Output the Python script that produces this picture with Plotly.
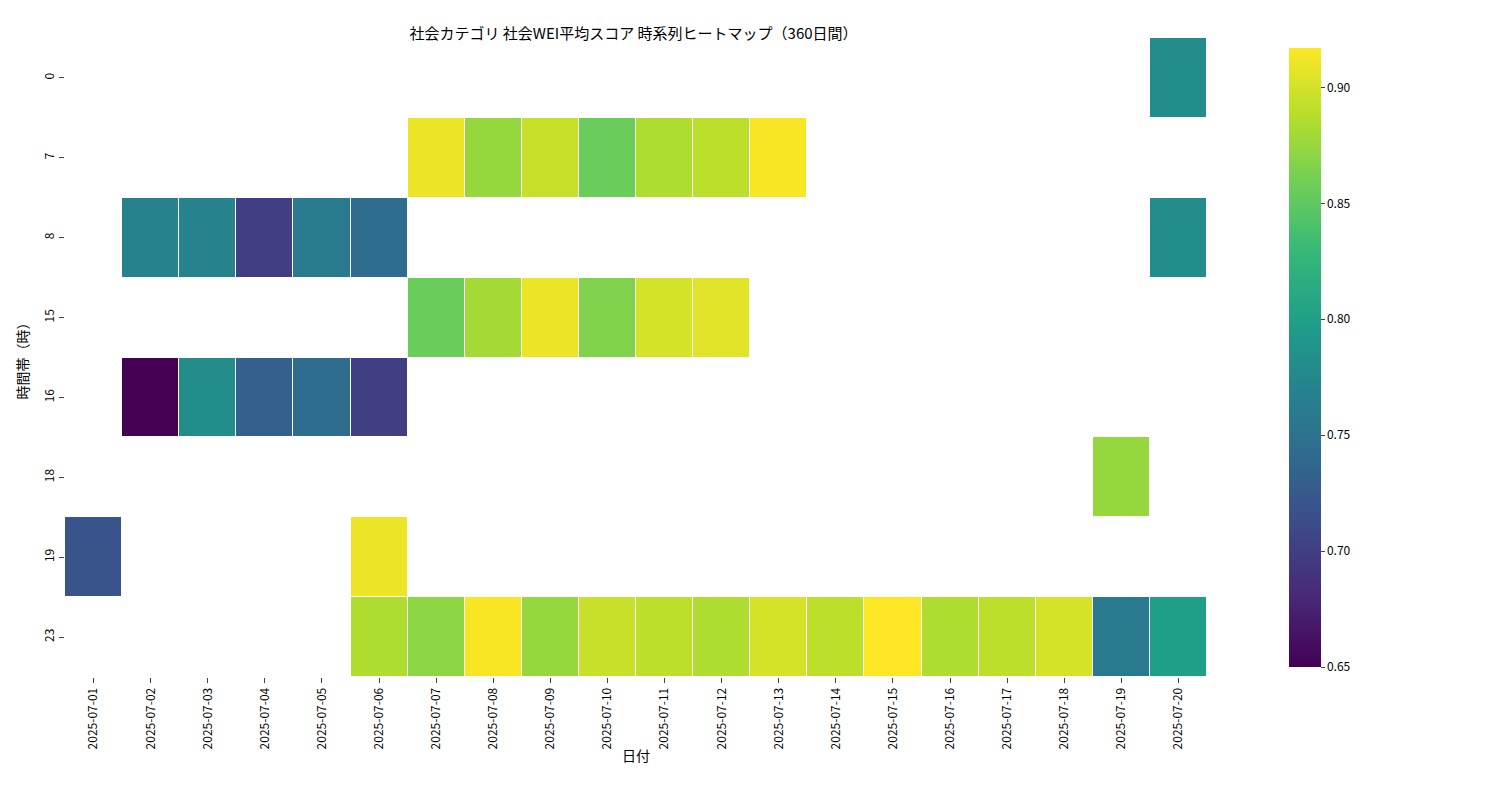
import plotly.graph_objects as go

dates = ["2025-07-%02d" % d for d in range(1, 21)]
hours = ["0", "7", "8", "15", "16", "18", "19", "23"]

N = None
row_0 = [N]*19 + [0.78]
row_7 = [N]*6 + [0.91, 0.875, 0.895, 0.855, 0.885, 0.89, 0.915] + [N]*7
row_8 = [N, 0.77, 0.77, 0.70, 0.76, 0.745] + [N]*13 + [0.78]
row_15 = [N]*6 + [0.855, 0.88, 0.91, 0.865, 0.90, 0.905] + [N]*8
row_16 = [N, 0.65, 0.78, 0.73, 0.745, 0.70] + [N]*14
row_18 = [N]*18 + [0.875, N]
row_19 = [0.72] + [N]*4 + [0.91] + [N]*14
row_23 = [N]*5 + [0.885, 0.87, 0.915, 0.875, 0.895, 0.89, 0.885, 0.90, 0.89,
                  0.917, 0.885, 0.89, 0.90, 0.76, 0.80]

z = [row_0, row_7, row_8, row_15, row_16, row_18, row_19, row_23]

fig = go.Figure(go.Heatmap(
    x=dates, y=hours, z=z, colorscale="Viridis", zmin=0.65, zmax=0.917,
    xgap=1, ygap=1, hoverongaps=False,
    colorbar=dict(x=1.063, xanchor="left", y=0.5, yanchor="middle", len=1.0,
                  thickness=32, outlinewidth=0, tickvals=[0.65, 0.7, 0.75, 0.8, 0.85, 0.9],
                  tickformat=".2f", ticks="outside", ticklen=4, tickfont=dict(size=12)),
))

fig.update_layout(
    width=1500, height=800,
    font=dict(family="Noto Sans CJK JP", size=12, color="black"),
    title=dict(text="社会カテゴリ 社会WEI平均スコア 時系列ヒートマップ（360日間）",
               x=0.417, xanchor="center", y=0.975, font=dict(size=15)),
    plot_bgcolor="white", paper_bgcolor="white",
    margin=dict(l=57, r=301, t=30, b=131),
    xaxis=dict(type="category", title=dict(text="日付", standoff=2), tickangle=-90,
               ticks="outside", ticklen=5, showgrid=False, zeroline=False),
    yaxis=dict(type="category", title=dict(text="時間帯（時）", standoff=8),
               autorange="reversed", ticks="outside", ticklen=5, tickangle=-90,
               showgrid=False, zeroline=False),
)

fig.write_html("out.html")
